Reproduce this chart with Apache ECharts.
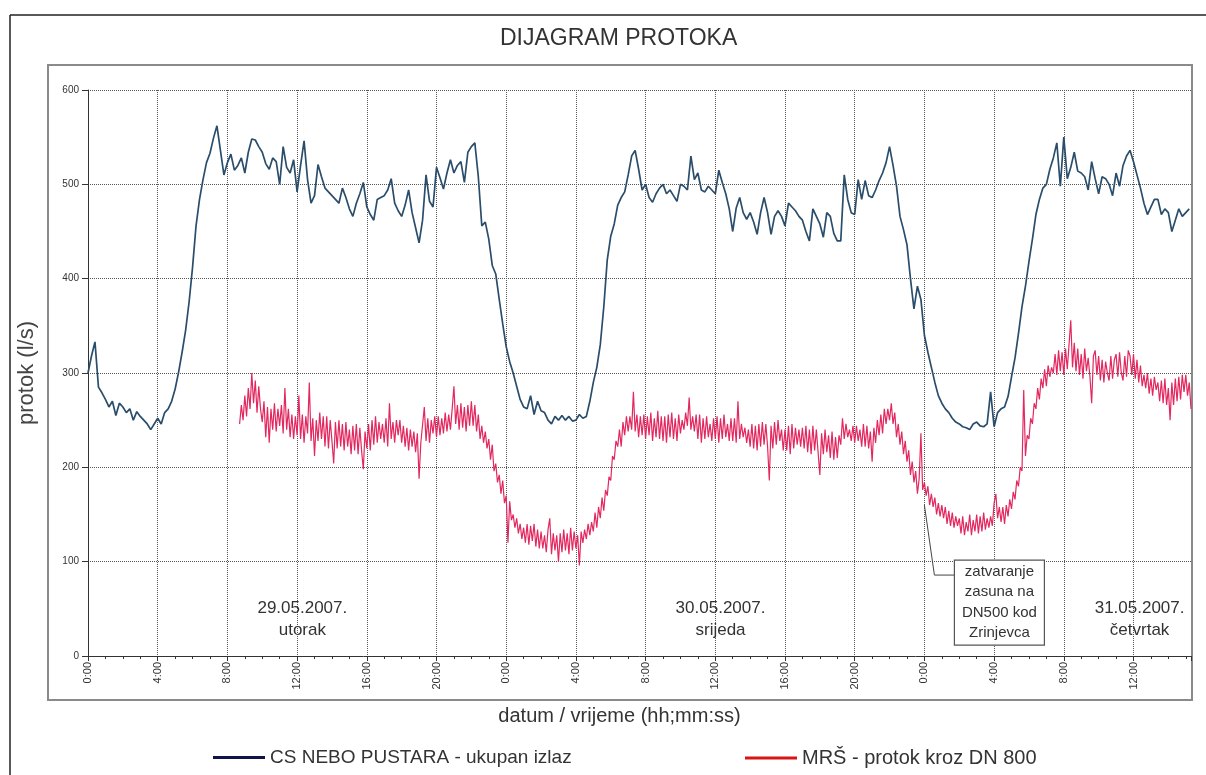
<!DOCTYPE html>
<html><head><meta charset="utf-8">
<script src="https://cdn.jsdelivr.net/npm/echarts@6/dist/echarts.min.js"></script>
<style>html,body{margin:0;padding:0;background:#fff}#c{width:1206px;height:775px}</style>
</head><body><div id="c"></div>
<script>
const FONT = '"Liberation Sans", Arial, sans-serif';
const TITLE = 'DIJAGRAM PROTOKA';
const Y_NAME = 'protok (l/s)';
const X_NAME = 'datum / vrijeme (hh;mm:ss)';
const SERIES_NAMES = ['CS NEBO PUSTARA - ukupan izlaz', 'MRŠ - protok kroz DN 800'];
const X_MIN_H = 0, X_MAX_H = 63.3, X_TICK_H = 4;
const Y_MIN = 0, Y_MAX = 600, Y_TICK = 100;

// CS NEBO PUSTARA - samples every 0.2 h from 29.05. 0:00
const BLUE_START_H = 0, BLUE_STEP_H = 0.2;
const blueValues = [
300,318,333,285,279, 272,264,270,255,268, 264,258,262,250,259, 254,250,246,240,246,
252,246,258,262,270, 283,301,322,345,375, 412,456,484,505,523, 533,549,562,536,510,
523,532,515,520,528, 512,534,548,547,540, 534,522,516,528,524, 500,540,518,512,526,
492,520,546,505,480, 488,521,508,496,492, 488,484,480,496,486, 474,466,480,490,502,
476,468,462,484,486, 488,494,506,480,472, 466,478,494,470,454, 438,462,510,482,476,
518,507,495,512,526, 512,520,524,502,534, 540,544,508,456,460, 442,414,405,378,352,
328,312,300,286,272, 264,262,276,256,270, 260,258,250,246,254, 250,255,250,254,249,
250,256,252,254,270, 290,306,330,370,420, 445,458,478,486,492, 510,530,536,516,494,
500,486,481,490,496, 500,490,494,488,482, 500,498,494,530,505, 512,494,492,498,494,
490,515,502,490,474, 450,475,486,470,463, 470,460,447,470,486, 470,447,466,472,466,
456,480,476,472,466, 462,450,440,474,466, 458,444,470,466,448, 440,440,510,484,470,
468,505,484,504,488, 486,494,504,512,523, 540,520,498,466,452, 436,400,368,392,378,
340,322,306,290,276, 268,262,258,252,248, 246,243,242,240,246, 248,244,243,246,280,
243,258,262,264,275, 296,316,342,370,392, 418,442,468,484,496, 500,516,528,544,498,
550,506,518,534,514, 512,508,494,524,506, 490,508,506,500,488, 512,498,520,530,536,
524,510,496,480,468, 476,484,484,468,474, 470,450,462,474,466, 470,474
];

// MRŠ - samples every 0.1 h from 29.05. 8:42
const RED_START_H = 8.7, RED_STEP_H = 0.1;
const redValues = [
246,266,250,
276,254,284,262,300,268,292,258,286,262,
248,270,232,264,226,262,240,268,238,262,
244,266,236,284,240,262,232,256,230,254,
234,276,230,256,226,254,236,290,228,252,
212,250,228,258,230,254,222,254,220,250,
228,204,248,220,250,222,246,218,248,222,
240,214,244,218,246,214,242,218,198,238,
220,246,218,250,224,254,226,248,230,246,
226,252,222,268,230,248,226,250,234,250,
226,244,222,242,218,240,222,238,216,236,
188,226,224,264,228,252,226,250,236,254,
232,254,234,252,236,258,238,256,240,262,
286,246,266,240,268,242,264,238,266,244,
270,244,266,238,256,230,244,226,238,220,
230,208,224,196,204,184,192,172,186,162,
170,120,164,144,150,136,146,130,140,124,
136,120,140,118,138,122,140,116,134,114,
132,114,128,110,134,146,108,130,112,128,
100,130,110,134,112,130,108,136,112,132,
114,128,96,132,120,134,124,140,128,142,
132,152,136,158,146,168,154,176,170,190,
186,212,208,228,222,240,222,248,234,254,
238,254,240,280,238,256,232,254,234,256,
230,254,234,258,228,252,232,260,230,254,
228,254,226,256,232,258,230,252,228,256,
236,250,240,258,244,274,240,254,238,256,
230,256,226,252,230,254,232,246,228,252,
230,254,226,252,230,256,232,246,228,252,
228,252,226,270,230,246,232,242,226,240,
222,246,220,244,218,246,222,248,224,246,
222,186,244,220,248,224,250,228,240,218,
240,218,244,214,246,220,242,224,240,222,
242,220,244,216,240,214,244,218,240,216,
192,236,214,240,216,234,210,238,208,232,
210,234,224,252,230,246,232,240,228,244,
226,244,228,240,222,246,222,244,220,238,
206,242,226,250,234,256,236,262,246,262,
250,268,246,258,232,246,224,238,214,228,
206,218,192,206,184,196,172,188,236,176,
184,170,180,160,172,158,168,150,162,148,
160,146,158,140,154,138,152,136,148,138,
146,130,148,128,142,132,150,128,144,132,
150,130,148,132,152,134,146,136,148,138,
162,172,146,158,142,158,140,160,148,166,
156,174,166,186,180,200,196,282,212,234,
230,252,246,268,262,284,272,294,284,304,
286,308,296,306,300,320,298,324,302,322,
298,326,304,330,356,306,332,302,326,298,
320,294,326,302,316,296,268,318,324,298,
318,292,314,290,312,300,292,318,294,314,
320,296,322,300,292,318,296,324,318,298,
320,294,314,290,308,286,298,284,300,278,
294,276,296,282,290,270,292,268,294,266,
284,250,290,266,294,270,296,272,298,280,
298,276,290,262
];

const dayLabels = ['29.05.2007.\nutorak', '30.05.2007.\nsrijeda', '31.05.2007.\nčetvrtak'];
const dayLabelHours = [12.3, 36.3, 60.35];
const dayLabelValue = 39;
const noteText = 'zatvaranje\nzasuna na\nDN500 kod\nZrinjevca';
const noteAnchor = [48.0, 160];

const blueData = blueValues.map((v, i) => [+(BLUE_START_H + i * BLUE_STEP_H).toFixed(2), v]);
const redData = redValues.map((v, i) => [+(RED_START_H + i * RED_STEP_H).toFixed(2), v]);

const chart = echarts.init(document.getElementById('c'), null, {renderer: 'canvas'});
const legendBase = {
  icon: 'rect', itemWidth: 52, itemHeight: 3, top: 743, selectedMode: false,
  textStyle: {fontSize: 19, color: '#333', fontFamily: FONT}
};
chart.setOption({
  animation: false,
  backgroundColor: '#fff',
  textStyle: {fontFamily: FONT},
  title: {
    text: TITLE, left: 495, top: 22, padding: 5,
    textStyle: {fontSize: 23, fontWeight: 'normal', color: '#333', fontFamily: FONT}
  },
  legend: [
    Object.assign({}, legendBase, {left: 208, data: [{name: SERIES_NAMES[0], itemStyle: {color: '#12124a'}}]}),
    Object.assign({}, legendBase, {left: 740, textStyle: {fontSize: 20, color: '#333', fontFamily: FONT},
      data: [{name: SERIES_NAMES[1], itemStyle: {color: '#d81414'}}]})
  ],
  grid: {left: 88, right: 15, top: 90, bottom: 119, containLabel: false},
  xAxis: {
    type: 'value', min: X_MIN_H, max: X_MAX_H, interval: X_TICK_H,
    name: X_NAME, nameLocation: 'middle', nameGap: 50,
    nameTextStyle: {fontSize: 20, color: '#333', fontFamily: FONT, padding: [0, 40, 0, 0]},
    axisLine: {show: true, lineStyle: {color: '#333', width: 1}},
    axisTick: {show: true, length: 5, lineStyle: {color: '#333'}},
    minorTick: {show: true, splitNumber: 4, length: 3, lineStyle: {color: '#333'}},
    axisLabel: {
      rotate: 90, fontSize: 11, color: '#333', margin: 6, fontFamily: FONT,
      showMaxLabel: false,
      formatter: v => (Math.abs(v % X_TICK_H) < 1e-6 ? (v % 24) + ':00' : '')
    },
    splitLine: {show: true, lineStyle: {type: 'dotted', color: '#555', width: 1}}
  },
  yAxis: {
    type: 'value', min: Y_MIN, max: Y_MAX, interval: Y_TICK,
    name: Y_NAME, nameLocation: 'middle', nameGap: 50, nameRotate: 90,
    nameTextStyle: {fontSize: 22, color: '#444', fontFamily: FONT},
    axisLine: {show: true, lineStyle: {color: '#333', width: 1}},
    axisTick: {show: true, length: 6, lineStyle: {color: '#333'}},
    axisLabel: {fontSize: 10, color: '#333', margin: 9, fontFamily: FONT},
    splitLine: {show: true, lineStyle: {type: 'dotted', color: '#555', width: 1}}
  },
  series: [
    {name: SERIES_NAMES[0], type: 'line', data: blueData, showSymbol: false, z: 3,
     lineStyle: {color: '#2a4d6b', width: 1.7}, itemStyle: {color: '#2a4d6b'}},
    {name: SERIES_NAMES[1], type: 'line', data: redData, showSymbol: false, z: 2,
     lineStyle: {color: '#e3285f', width: 1.2}, itemStyle: {color: '#e3285f'}}
  ]
});

const px = p => chart.convertToPixel({gridIndex: 0}, p);
const graphics = [
  {type: 'line', shape: {x1: 10, y1: 15, x2: 1206, y2: 15}, style: {stroke: '#222', lineWidth: 1.5}, silent: true},
  {type: 'line', shape: {x1: 10, y1: 15, x2: 10, y2: 775}, style: {stroke: '#222', lineWidth: 1.5}, silent: true},
  {type: 'rect', shape: {x: 48, y: 65, width: 1144, height: 635}, style: {fill: 'none', stroke: '#8a8a8a', lineWidth: 2}, silent: true, z: 0}
];
dayLabels.forEach((t, i) => {
  const p = px([dayLabelHours[i], dayLabelValue]);
  graphics.push({type: 'text', x: p[0], y: p[1], z: 10, silent: true,
    style: {text: t, font: '17px ' + FONT, fill: '#333', align: 'center', verticalAlign: 'middle', lineHeight: 22}});
});
const a = px(noteAnchor);
const boxL = a[0] + 30, boxT = a[1] + 55, boxW = 90, boxH = 85;
graphics.push({type: 'polyline', z: 10, silent: true,
  shape: {points: [[a[0], a[1]], [a[0] + 10, boxT + 15], [boxL, boxT + 15]]},
  style: {stroke: '#444', lineWidth: 1, fill: null}});
graphics.push({type: 'rect', z: 10, silent: true, shape: {x: boxL, y: boxT, width: boxW, height: boxH},
  style: {fill: '#fff', stroke: '#555', lineWidth: 1.2}});
graphics.push({type: 'text', z: 11, silent: true, x: boxL + boxW / 2, y: boxT + boxH / 2,
  style: {text: noteText, font: '15px ' + FONT, fill: '#333', align: 'center', verticalAlign: 'middle', lineHeight: 20.5}});
chart.setOption({graphic: graphics});
</script></body></html>
